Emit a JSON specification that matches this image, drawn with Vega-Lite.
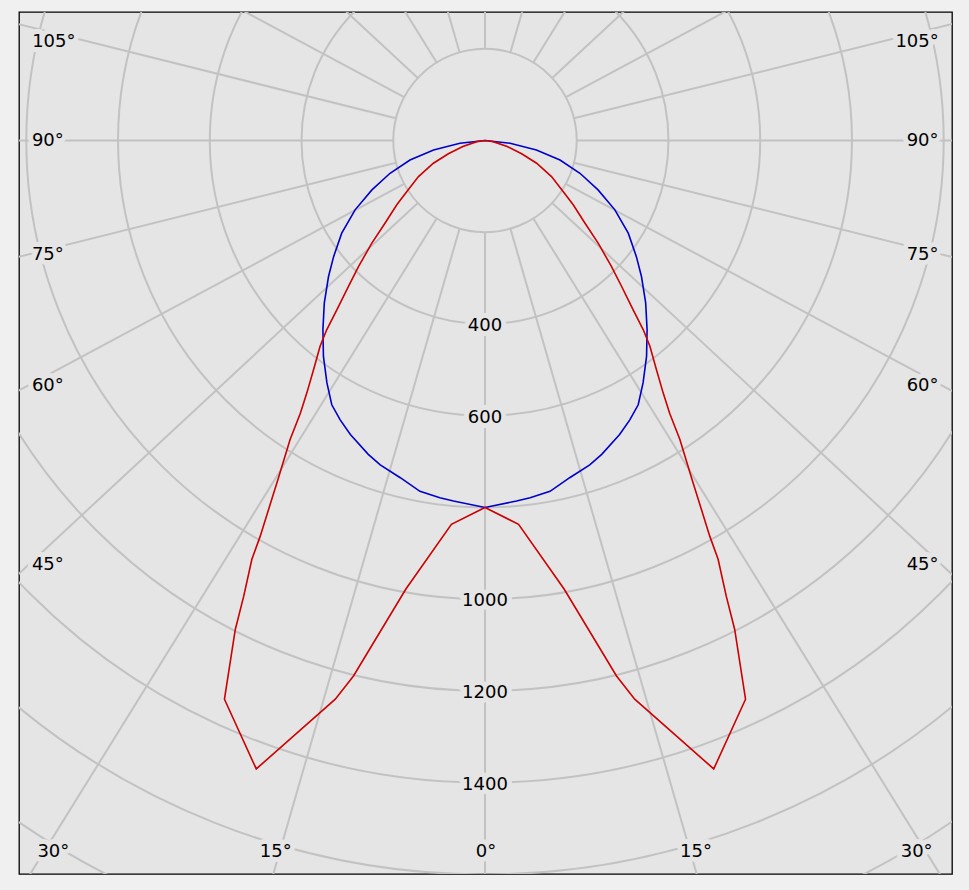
{
  "$schema": "https://vega.github.io/schema/vega-lite/v6.json",
  "width": 933,
  "height": 862,
  "autosize": {"type": "none"},
  "padding": {"left": 19, "top": 12, "right": 17, "bottom": 16},
  "background": "#f0f0f0",
  "config": {"view": {"fill": "#e5e5e5", "stroke": "#000000", "strokeWidth": 1.3}},
  "datasets": {
    "rings": [{"r": 200}, {"r": 400}, {"r": 600}, {"r": 800}, {"r": 1000}, {"r": 1200}, {"r": 1400}, {"r": 1600}, {"r": 1800}, {"r": 2000}],
    "rays": [
      {"a": 0}, {"a": 16.1}, {"a": -16.1}, {"a": 31.8}, {"a": -31.8}, {"a": 47.1}, {"a": -47.1},
      {"a": 61.8}, {"a": -61.8}, {"a": 76.0}, {"a": -76.0}, {"a": 90}, {"a": -90},
      {"a": 104.0}, {"a": -104.0}, {"a": 118.2}, {"a": -118.2}, {"a": 132.9}, {"a": -132.9},
      {"a": 148.2}, {"a": -148.2}, {"a": 163.9}, {"a": -163.9}, {"a": 180}
    ],
    "ilabels": [{"v": 400}, {"v": 600}, {"v": 1000}, {"v": 1200}, {"v": 1400}],
    "alabels": [
      {"t": "105°", "x": -940, "y": -216},
      {"t": "90°", "x": -953, "y": 0},
      {"t": "75°", "x": -953, "y": 247},
      {"t": "60°", "x": -953, "y": 533},
      {"t": "45°", "x": -953, "y": 923},
      {"t": "30°", "x": -941, "y": 1549},
      {"t": "15°", "x": -456, "y": 1549},
      {"t": "0°", "x": 2, "y": 1549},
      {"t": "15°", "x": 460, "y": 1549},
      {"t": "30°", "x": 941, "y": 1549},
      {"t": "45°", "x": 954, "y": 923},
      {"t": "60°", "x": 954, "y": 533},
      {"t": "75°", "x": 954, "y": 247},
      {"t": "90°", "x": 954, "y": 0},
      {"t": "105°", "x": 942, "y": -216}
    ],
    "curves": [
      {"c": "C0-C180", "a": -90, "i": 0},
      {"c": "C0-C180", "a": -83.6, "i": 55},
      {"c": "C0-C180", "a": -79.6, "i": 114},
      {"c": "C0-C180", "a": -75.4, "i": 169},
      {"c": "C0-C180", "a": -70.95, "i": 219},
      {"c": "C0-C180", "a": -66.4, "i": 269},
      {"c": "C0-C180", "a": -61.9, "i": 321},
      {"c": "C0-C180", "a": -57.1, "i": 372},
      {"c": "C0-C180", "a": -52.5, "i": 416},
      {"c": "C0-C180", "a": -49, "i": 452},
      {"c": "C0-C180", "a": -44.7, "i": 498},
      {"c": "C0-C180", "a": -40.6, "i": 543},
      {"c": "C0-C180", "a": -36.8, "i": 588},
      {"c": "C0-C180", "a": -33.1, "i": 631},
      {"c": "C0-C180", "a": -30.1, "i": 666},
      {"c": "C0-C180", "a": -27.4, "i": 686},
      {"c": "C0-C180", "a": -24.6, "i": 705},
      {"c": "C0-C180", "a": -20.4, "i": 730},
      {"c": "C0-C180", "a": -17.9, "i": 743},
      {"c": "C0-C180", "a": -14.1, "i": 758},
      {"c": "C0-C180", "a": -10.5, "i": 778},
      {"c": "C0-C180", "a": -7.2, "i": 785},
      {"c": "C0-C180", "a": -5, "i": 789},
      {"c": "C0-C180", "a": 0, "i": 800},
      {"c": "C0-C180", "a": 5, "i": 789},
      {"c": "C0-C180", "a": 7.2, "i": 785},
      {"c": "C0-C180", "a": 10.5, "i": 778},
      {"c": "C0-C180", "a": 14.1, "i": 758},
      {"c": "C0-C180", "a": 17.9, "i": 743},
      {"c": "C0-C180", "a": 20.4, "i": 730},
      {"c": "C0-C180", "a": 24.6, "i": 705},
      {"c": "C0-C180", "a": 27.4, "i": 686},
      {"c": "C0-C180", "a": 30.1, "i": 666},
      {"c": "C0-C180", "a": 33.1, "i": 631},
      {"c": "C0-C180", "a": 36.8, "i": 588},
      {"c": "C0-C180", "a": 40.6, "i": 543},
      {"c": "C0-C180", "a": 44.7, "i": 498},
      {"c": "C0-C180", "a": 49, "i": 452},
      {"c": "C0-C180", "a": 52.5, "i": 416},
      {"c": "C0-C180", "a": 57.1, "i": 372},
      {"c": "C0-C180", "a": 61.9, "i": 321},
      {"c": "C0-C180", "a": 66.4, "i": 269},
      {"c": "C0-C180", "a": 70.95, "i": 219},
      {"c": "C0-C180", "a": 75.4, "i": 169},
      {"c": "C0-C180", "a": 79.6, "i": 114},
      {"c": "C0-C180", "a": 83.6, "i": 55},
      {"c": "C0-C180", "a": 90, "i": 0},
      {"c": "C90-C270", "a": -90, "i": 0},
      {"c": "C90-C270", "a": -82, "i": 18},
      {"c": "C90-C270", "a": -75, "i": 50},
      {"c": "C90-C270", "a": -70, "i": 85},
      {"c": "C90-C270", "a": -66.2, "i": 123},
      {"c": "C90-C270", "a": -61.5, "i": 165},
      {"c": "C90-C270", "a": -56.8, "i": 204},
      {"c": "C90-C270", "a": -53.9, "i": 238},
      {"c": "C90-C270", "a": -50.4, "i": 283},
      {"c": "C90-C270", "a": -47.8, "i": 333},
      {"c": "C90-C270", "a": -45.1, "i": 389},
      {"c": "C90-C270", "a": -43.1, "i": 436},
      {"c": "C90-C270", "a": -41.2, "i": 490},
      {"c": "C90-C270", "a": -39.9, "i": 538},
      {"c": "C90-C270", "a": -38.7, "i": 575},
      {"c": "C90-C270", "a": -36.8, "i": 624},
      {"c": "C90-C270", "a": -35.2, "i": 674},
      {"c": "C90-C270", "a": -34.1, "i": 718},
      {"c": "C90-C270", "a": -33.1, "i": 778},
      {"c": "C90-C270", "a": -31.4, "i": 867},
      {"c": "C90-C270", "a": -29.6, "i": 992},
      {"c": "C90-C270", "a": -29.1, "i": 1045},
      {"c": "C90-C270", "a": -27.9, "i": 1124},
      {"c": "C90-C270", "a": -27.05, "i": 1197},
      {"c": "C90-C270", "a": -25, "i": 1344},
      {"c": "C90-C270", "a": -20, "i": 1458},
      {"c": "C90-C270", "a": -15, "i": 1261},
      {"c": "C90-C270", "a": -13.8, "i": 1202},
      {"c": "C90-C270", "a": -10, "i": 993},
      {"c": "C90-C270", "a": -5, "i": 840},
      {"c": "C90-C270", "a": 0, "i": 800},
      {"c": "C90-C270", "a": 5, "i": 840},
      {"c": "C90-C270", "a": 10, "i": 993},
      {"c": "C90-C270", "a": 13.8, "i": 1202},
      {"c": "C90-C270", "a": 15, "i": 1261},
      {"c": "C90-C270", "a": 20, "i": 1458},
      {"c": "C90-C270", "a": 25, "i": 1344},
      {"c": "C90-C270", "a": 27.05, "i": 1197},
      {"c": "C90-C270", "a": 27.9, "i": 1124},
      {"c": "C90-C270", "a": 29.1, "i": 1045},
      {"c": "C90-C270", "a": 29.6, "i": 992},
      {"c": "C90-C270", "a": 31.4, "i": 867},
      {"c": "C90-C270", "a": 33.1, "i": 778},
      {"c": "C90-C270", "a": 34.1, "i": 718},
      {"c": "C90-C270", "a": 35.2, "i": 674},
      {"c": "C90-C270", "a": 36.8, "i": 624},
      {"c": "C90-C270", "a": 38.7, "i": 575},
      {"c": "C90-C270", "a": 39.9, "i": 538},
      {"c": "C90-C270", "a": 41.2, "i": 490},
      {"c": "C90-C270", "a": 43.1, "i": 436},
      {"c": "C90-C270", "a": 45.1, "i": 389},
      {"c": "C90-C270", "a": 47.8, "i": 333},
      {"c": "C90-C270", "a": 50.4, "i": 283},
      {"c": "C90-C270", "a": 53.9, "i": 238},
      {"c": "C90-C270", "a": 56.8, "i": 204},
      {"c": "C90-C270", "a": 61.5, "i": 165},
      {"c": "C90-C270", "a": 66.2, "i": 123},
      {"c": "C90-C270", "a": 70, "i": 85},
      {"c": "C90-C270", "a": 75, "i": 50},
      {"c": "C90-C270", "a": 82, "i": 18},
      {"c": "C90-C270", "a": 90, "i": 0}
    ]
  },
  "layer": [
    {
      "data": {"name": "rings"},
      "mark": {"type": "point", "shape": "circle", "filled": false, "stroke": "#c2c2c2", "strokeWidth": 2, "opacity": 1, "clip": true},
      "encoding": {
        "x": {"datum": 0, "type": "quantitative", "scale": {"domain": [-1015.9, 1018.1], "nice": false, "zero": false}, "axis": null},
        "y": {"datum": 0, "type": "quantitative", "scale": {"domain": [-280.1, 1599.1], "nice": false, "zero": false, "reverse": true}, "axis": null},
        "size": {"field": "r", "type": "quantitative", "scale": {"type": "pow", "exponent": 2, "domain": [0, 1000], "range": [0, 841623], "zero": true}, "legend": null}
      }
    },
    {
      "data": {"name": "rays"},
      "transform": [
        {"calculate": "200*sin(datum.a*PI/180)", "as": "x1"},
        {"calculate": "200*cos(datum.a*PI/180)", "as": "y1"},
        {"calculate": "3000*sin(datum.a*PI/180)", "as": "x2"},
        {"calculate": "3000*cos(datum.a*PI/180)", "as": "y2"}
      ],
      "mark": {"type": "rule", "stroke": "#c2c2c2", "strokeWidth": 2, "clip": true},
      "encoding": {
        "x": {"field": "x1", "type": "quantitative", "scale": {"domain": [-1015.9, 1018.1], "nice": false, "zero": false}, "axis": null},
        "y": {"field": "y1", "type": "quantitative", "scale": {"domain": [-280.1, 1599.1], "nice": false, "zero": false, "reverse": true}, "axis": null},
        "x2": {"field": "x2"},
        "y2": {"field": "y2"}
      }
    },
    {
      "data": {"name": "ilabels"},
      "mark": {"type": "text", "font": "DejaVu Sans", "fontSize": 18, "stroke": "#e5e5e5", "strokeWidth": 10, "strokeJoin": "round", "fill": "#e5e5e5", "align": "center", "baseline": "middle", "dy": 2},
      "encoding": {
        "x": {"datum": 0, "type": "quantitative", "scale": {"domain": [-1015.9, 1018.1], "nice": false, "zero": false}, "axis": null},
        "y": {"field": "v", "type": "quantitative", "scale": {"domain": [-280.1, 1599.1], "nice": false, "zero": false, "reverse": true}, "axis": null},
        "text": {"field": "v", "type": "nominal"}
      }
    },
    {
      "data": {"name": "ilabels"},
      "mark": {"type": "text", "font": "DejaVu Sans", "fontSize": 18, "fill": "#000000", "align": "center", "baseline": "middle", "dy": 2},
      "encoding": {
        "x": {"datum": 0, "type": "quantitative", "scale": {"domain": [-1015.9, 1018.1], "nice": false, "zero": false}, "axis": null},
        "y": {"field": "v", "type": "quantitative", "scale": {"domain": [-280.1, 1599.1], "nice": false, "zero": false, "reverse": true}, "axis": null},
        "text": {"field": "v", "type": "nominal"}
      }
    },
    {
      "data": {"name": "alabels"},
      "mark": {"type": "text", "font": "DejaVu Sans", "fontSize": 18, "stroke": "#e5e5e5", "strokeWidth": 10, "strokeJoin": "round", "fill": "#e5e5e5", "align": "center", "baseline": "middle", "dy": 1},
      "encoding": {
        "x": {"field": "x", "type": "quantitative", "scale": {"domain": [-1015.9, 1018.1], "nice": false, "zero": false}, "axis": null},
        "y": {"field": "y", "type": "quantitative", "scale": {"domain": [-280.1, 1599.1], "nice": false, "zero": false, "reverse": true}, "axis": null},
        "text": {"field": "t", "type": "nominal"}
      }
    },
    {
      "data": {"name": "alabels"},
      "mark": {"type": "text", "font": "DejaVu Sans", "fontSize": 18, "fill": "#000000", "align": "center", "baseline": "middle", "dy": 1},
      "encoding": {
        "x": {"field": "x", "type": "quantitative", "scale": {"domain": [-1015.9, 1018.1], "nice": false, "zero": false}, "axis": null},
        "y": {"field": "y", "type": "quantitative", "scale": {"domain": [-280.1, 1599.1], "nice": false, "zero": false, "reverse": true}, "axis": null},
        "text": {"field": "t", "type": "nominal"}
      }
    },
    {
      "data": {"name": "curves"},
      "transform": [
        {"calculate": "datum.i*sin(datum.a*PI/180)", "as": "cx"},
        {"calculate": "datum.i*cos(datum.a*PI/180)", "as": "cy"}
      ],
      "mark": {"type": "line", "strokeWidth": 1.6, "clip": true},
      "encoding": {
        "x": {"field": "cx", "type": "quantitative", "scale": {"domain": [-1015.9, 1018.1], "nice": false, "zero": false}, "axis": null},
        "y": {"field": "cy", "type": "quantitative", "scale": {"domain": [-280.1, 1599.1], "nice": false, "zero": false, "reverse": true}, "axis": null},
        "order": {"field": "a", "type": "quantitative"},
        "color": {"field": "c", "type": "nominal", "scale": {"domain": ["C0-C180", "C90-C270"], "range": ["#0000cc", "#cc0000"]}, "legend": null}
      }
    }
  ]
}
